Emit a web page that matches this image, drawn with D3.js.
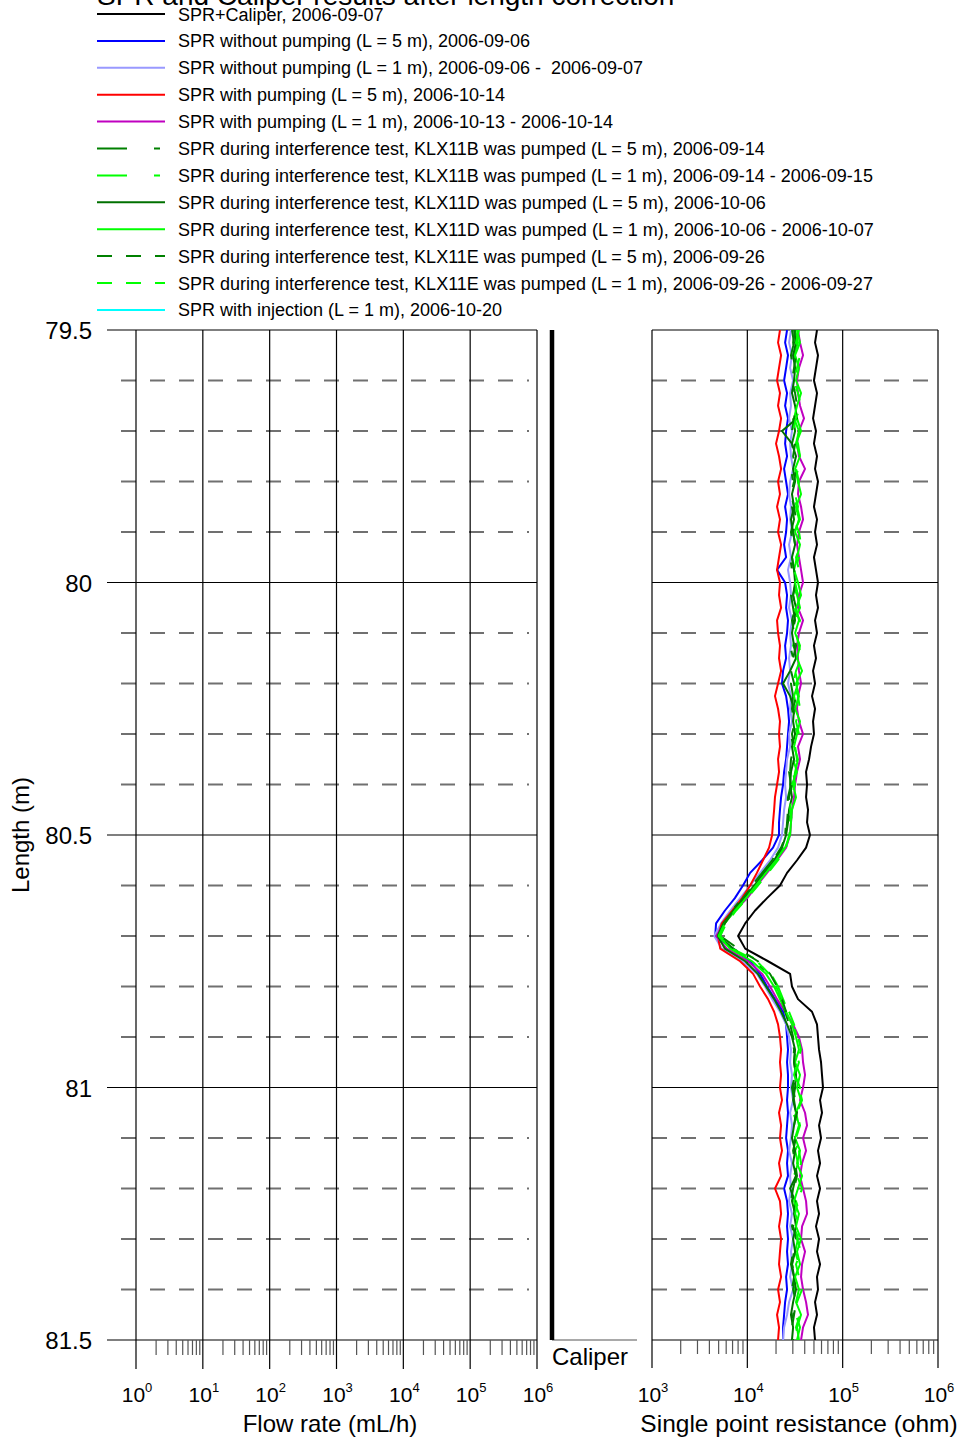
<!DOCTYPE html>
<html>
<head>
<meta charset="utf-8">
<script src="https://cdn.jsdelivr.net/npm/d3@7"></script>
<style>
  html, body { margin: 0; padding: 0; background: #fff; }
  svg { display: block; font-family: Arial, "Liberation Sans", Helvetica, sans-serif; }
  text { white-space: pre; }
</style>
</head>
<body>
<svg id="chart" width="965" height="1439"></svg>
<script>
// Borehole length (m) of each logged sample
const depth = [
  79.500,79.525,79.550,79.575,79.600,79.625,79.650,79.675,79.700,79.725,
  79.750,79.775,79.800,79.825,79.850,79.875,79.900,79.925,79.950,79.975,
  80.000,80.025,80.050,80.075,80.100,80.125,80.150,80.175,80.200,80.225,
  80.250,80.275,80.300,80.325,80.350,80.375,80.400,80.425,80.450,80.475,
  80.500,80.525,80.550,80.575,80.600,80.625,80.650,80.675,80.700,80.725,
  80.750,80.775,80.800,80.825,80.850,80.875,80.900,80.925,80.950,80.975,
  81.000,81.025,81.050,81.075,81.100,81.125,81.150,81.175,81.200,81.225,
  81.250,81.275,81.300,81.325,81.350,81.375,81.400,81.425,81.450,81.475,
  81.500
];

// Single point resistance, kilo-ohm, one value per depth
const sprCaliper = [
  53.8,51.3,55.1,52.5,50.0,53.8,51.3,48.9,52.5,50.0,
  53.8,51.3,55.1,52.5,50.0,53.8,51.3,53.8,50.0,52.5,
  55.1,52.5,55.1,51.3,53.8,50.0,52.5,48.9,51.3,47.7,
  51.3,48.9,50.0,46.6,44.4,41.3,42.3,41.3,43.3,42.3,
  45.4,41.3,33.2,26.1,22.0,16.1,12.0,9.5,8.0,9.5,
  16.5,28.1,29.4,34.0,47.7,53.8,55.1,56.5,59.3,60.7,
  62.2,57.9,60.7,56.5,59.3,55.1,57.9,53.8,57.9,53.8,
  56.5,52.5,56.5,53.8,57.9,53.8,55.1,51.3,53.8,50.0,
  51.3
];
const sprNoPump5 = [
  26.1,24.9,26.7,25.5,24.3,26.1,24.9,26.7,25.5,24.9,
  26.1,24.3,25.5,26.7,24.9,26.1,25.5,24.3,25.5,20.5,
  24.9,26.1,25.5,26.7,26.1,24.9,25.5,23.7,23.1,25.5,
  26.7,27.4,26.7,26.1,25.5,24.3,23.7,22.6,22.0,21.5,
  21.5,18.6,14.3,10.7,9.0,7.4,5.8,4.7,4.6,7.1,
  10.7,13.6,16.1,19.5,23.7,25.5,26.1,26.7,26.1,26.7,
  26.7,26.1,26.7,26.1,25.5,26.7,26.1,26.7,24.3,26.1,
  26.7,26.1,26.7,26.1,26.7,25.5,26.1,24.9,24.3,23.7,
  23.7
];
const sprNoPump1 = [
  28.7,27.4,29.4,28.1,30.2,28.1,28.7,27.4,29.4,28.1,
  28.7,30.2,28.1,27.4,28.7,28.1,29.4,27.4,28.7,26.7,
  28.1,28.7,27.4,29.4,28.1,28.7,27.4,28.1,26.7,28.7,
  28.1,29.4,27.4,28.1,26.1,25.5,24.9,25.5,24.3,23.7,
  23.1,21.0,17.3,13.6,10.7,8.4,6.6,5.3,4.5,5.4,
  8.8,12.6,15.3,18.2,22.0,25.5,27.4,28.7,28.1,29.4,
  28.7,30.2,28.1,29.4,28.7,27.4,29.4,28.1,28.7,27.4,
  29.4,28.1,30.2,28.7,29.4,28.1,30.2,27.4,26.1,24.3,
  23.7
];
const sprPump5 = [
  22.0,21.0,22.6,21.5,20.5,22.0,21.0,22.6,21.5,20.0,
  21.5,22.6,21.0,22.0,20.5,22.0,21.0,22.6,21.5,20.5,
  22.0,21.5,22.6,20.5,21.0,22.0,21.5,22.6,21.0,19.5,
  21.0,22.0,21.5,22.0,21.0,21.5,20.5,19.5,19.1,18.6,
  18.2,16.9,14.6,12.6,10.7,8.8,6.9,5.4,4.9,5.2,
  8.4,11.5,13.6,16.5,19.1,21.0,22.0,22.6,22.0,22.6,
  22.0,23.1,21.5,22.6,22.0,23.1,21.5,22.6,19.5,22.0,
  22.6,21.5,22.6,22.0,21.5,22.6,21.0,22.0,20.5,21.5,
  21.0
];
const sprPump1 = [
  34.0,35.7,38.4,34.8,33.2,34.0,35.7,39.3,34.8,33.2,
  34.8,40.3,34.8,34.0,36.6,38.4,34.8,33.2,34.8,36.6,
  38.4,34.8,34.0,38.4,34.8,33.2,34.0,34.8,36.6,34.0,
  33.2,34.8,38.4,34.0,35.7,33.2,31.7,30.9,29.4,28.7,
  28.1,25.5,20.5,16.1,12.6,10.0,7.4,5.7,4.7,6.1,
  10.2,14.3,17.3,20.5,24.9,30.2,34.8,37.5,38.4,40.3,
  38.4,35.7,40.3,42.3,38.4,41.3,37.5,35.7,38.4,41.3,
  42.3,37.5,36.6,40.3,37.5,36.6,38.4,41.3,43.3,38.4,
  36.6
];
const sprKLX11B5 = [
  29.4,30.9,28.7,30.2,31.7,29.4,28.1,30.2,31.7,29.4,
  30.9,28.7,30.2,31.7,29.4,30.9,28.7,30.2,28.1,29.4,
  30.9,28.7,30.2,31.7,29.4,28.1,30.2,31.7,28.7,30.2,
  29.4,30.9,28.7,30.2,28.1,27.4,28.7,26.7,26.1,25.5,
  24.9,22.0,18.2,14.3,11.2,8.8,6.9,5.7,5.0,7.1,
  12.0,16.5,20.0,22.6,24.9,27.4,29.4,30.9,30.2,31.7,
  29.4,30.9,32.4,30.2,31.7,29.4,30.9,32.4,30.2,28.7,
  30.9,29.4,31.7,30.2,28.7,30.9,29.4,31.7,30.2,28.7,
  29.4
];
const sprKLX11B1 = [
  31.7,34.0,30.9,33.2,35.7,31.7,30.2,33.2,36.6,32.4,
  30.2,34.0,31.7,29.4,33.2,35.7,30.9,33.2,34.8,31.7,
  29.4,33.2,35.7,30.9,33.2,30.2,34.8,31.7,34.0,30.9,
  33.2,30.2,34.0,32.4,30.2,33.2,29.4,28.1,28.7,27.4,
  26.7,24.3,19.5,15.3,12.0,9.5,7.3,5.7,4.9,7.4,
  13.6,17.7,21.0,23.7,26.7,30.2,33.2,30.9,34.8,31.7,
  35.7,32.4,30.2,34.0,36.6,31.7,34.0,30.9,34.8,32.4,
  35.7,30.9,34.0,31.7,34.8,33.2,30.9,34.8,32.4,35.7,
  33.2
];
const sprKLX11D5 = [
  30.9,32.4,30.2,31.7,30.9,29.4,31.7,33.2,23.1,29.4,
  32.4,30.2,31.7,29.4,30.9,28.7,30.2,31.7,29.4,30.9,
  31.7,30.2,32.4,30.9,29.4,30.9,32.4,28.1,23.7,28.1,
  30.9,30.2,31.7,29.4,30.9,28.7,28.1,29.4,27.4,26.7,
  25.5,23.1,19.1,15.0,11.8,9.2,7.1,5.6,4.9,5.8,
  9.5,12.9,15.7,19.1,22.6,26.1,29.4,31.7,30.9,32.4,
  31.7,30.2,32.4,30.9,29.4,31.7,30.2,32.4,28.1,31.7,
  30.9,32.4,30.2,31.7,29.4,30.9,32.4,30.2,28.7,30.2,
  29.4
];
const sprKLX11D1 = [
  33.2,35.7,31.7,34.8,32.4,36.6,33.2,30.9,34.8,32.4,
  35.7,31.7,34.0,36.6,32.4,34.8,31.7,35.7,33.2,30.9,
  34.0,36.6,32.4,34.8,31.7,35.7,33.2,37.5,32.4,34.8,
  31.7,35.7,33.2,30.9,34.0,31.7,30.2,32.4,29.4,28.7,
  28.1,24.9,20.0,15.7,12.3,9.7,7.4,5.8,5.0,6.6,
  11.2,15.7,19.1,22.0,25.5,29.4,32.4,34.8,31.7,35.7,
  33.2,36.6,32.4,34.8,31.7,35.7,33.2,37.5,34.0,30.9,
  34.8,32.4,36.6,33.2,35.7,31.7,34.8,32.4,36.6,33.2,
  34.8
];
const sprKLX11E5 = [
  31.7,30.2,32.4,30.9,29.4,31.7,33.2,30.9,29.4,31.7,
  30.2,32.4,30.9,28.7,30.9,32.4,30.2,31.7,29.4,30.9,
  32.4,30.2,31.7,29.4,30.9,32.4,30.2,28.7,30.9,32.4,
  30.2,31.7,29.4,30.9,28.7,28.1,29.4,27.4,26.7,26.1,
  25.5,22.6,18.6,14.6,11.5,9.0,7.1,5.8,5.2,8.0,
  12.9,17.3,20.5,23.1,25.5,28.1,30.2,31.7,30.9,32.4,
  30.2,31.7,33.2,30.9,32.4,30.2,31.7,33.2,30.9,29.4,
  31.7,30.2,32.4,30.9,29.4,31.7,30.2,32.4,30.9,29.4,
  30.2
];
const sprKLX11E1 = [
  34.8,32.4,35.7,33.2,30.9,34.0,36.6,32.4,30.2,34.0,
  35.7,32.4,34.8,31.7,34.0,30.9,34.8,36.6,32.4,34.8,
  31.7,34.0,30.9,35.7,32.4,34.8,36.6,32.4,30.2,34.0,
  35.7,32.4,34.8,31.7,33.2,30.2,31.7,28.7,28.1,29.4,
  27.4,25.5,21.0,16.5,12.9,10.0,7.6,6.0,5.2,6.9,
  12.6,16.9,20.0,23.1,27.4,30.9,34.0,36.6,33.2,30.9,
  34.8,37.5,33.2,35.7,32.4,34.8,36.6,33.2,37.5,34.0,
  31.7,35.7,33.2,36.6,32.4,34.8,37.5,33.2,35.7,32.4,
  34.8
];
// The injection run has no samples in this length interval
const sprInjection1 = [];

// Caliper trace (normalised reading) at both ends of the interval
const caliperDepth = [79.5, 81.5];
const caliperReading = [0, 0];

const legendLabels = [
  "SPR+Caliper, 2006-09-07",
  "SPR without pumping (L = 5 m), 2006-09-06",
  "SPR without pumping (L = 1 m), 2006-09-06 -  2006-09-07",
  "SPR with pumping (L = 5 m), 2006-10-14",
  "SPR with pumping (L = 1 m), 2006-10-13 - 2006-10-14",
  "SPR during interference test, KLX11B was pumped (L = 5 m), 2006-09-14",
  "SPR during interference test, KLX11B was pumped (L = 1 m), 2006-09-14 - 2006-09-15",
  "SPR during interference test, KLX11D was pumped (L = 5 m), 2006-10-06",
  "SPR during interference test, KLX11D was pumped (L = 1 m), 2006-10-06 - 2006-10-07",
  "SPR during interference test, KLX11E was pumped (L = 5 m), 2006-09-26",
  "SPR during interference test, KLX11E was pumped (L = 1 m), 2006-09-26 - 2006-09-27",
  "SPR with injection (L = 1 m), 2006-10-20"
];

const flowTicks = [1, 10, 100, 1e3, 1e4, 1e5, 1e6];
const flowTickExp = ["0", "1", "2", "3", "4", "5", "6"];
const resTicks = [1e3, 1e4, 1e5, 1e6];
const resTickExp = ["3", "4", "5", "6"];
const depthTicks = [79.5, 80, 80.5, 81, 81.5];
const depthTickLabels = ["79.5", "80", "80.5", "81", "81.5"];

const titleText = "SPR and Caliper results after length correction";
const flowTitle = "Flow rate (mL/h)";
const resTitle = "Single point resistance (ohm)";
const depthTitle = "Length (m)";
const caliperTitle = "Caliper";

// ---------- styling for each SPR run ----------
const DARK = "#008000", LIME = "#00ff00";
const dashLongShort = "30,27,6,27";
const dashPlain = "15,14";
const runs = [
  { values: sprCaliper,    color: "#000000", dash: null },
  { values: sprNoPump5,    color: "#0000ff", dash: null },
  { values: sprNoPump1,    color: "#9999ff", dash: null },
  { values: sprPump5,      color: "#ff0000", dash: null },
  { values: sprPump1,      color: "#c000c0", dash: null },
  { values: sprKLX11B5,    color: DARK,      dash: dashLongShort },
  { values: sprKLX11B1,    color: LIME,      dash: dashLongShort },
  { values: sprKLX11D5,    color: "#007000", dash: null },
  { values: sprKLX11D1,    color: LIME,      dash: null },
  { values: sprKLX11E5,    color: DARK,      dash: dashPlain },
  { values: sprKLX11E1,    color: LIME,      dash: dashPlain },
  { values: sprInjection1, color: "#00ffff", dash: null }
].map((r, i) => Object.assign(r, { label: legendLabels[i] }));

// ---------- scales ----------
const y = d3.scaleLinear().domain([79.5, 81.5]).range([330, 1340]);
const xFlow = d3.scaleLog().domain([1, 1e6]).range([136, 537]);
const xRes = d3.scaleLog().domain([1e3, 1e6]).range([652, 938]);
const xCal = d3.scaleLinear().domain([0, 1]).range([552, 637]);

const svg = d3.select("#chart");
const FONT = 'Arial, "Liberation Sans", Helvetica, sans-serif';
const gridColor = "#000";
const dashColor = "#707070";
const tickBottom = 1369;

// minor depth gridlines every 0.1 m
const minorDepths = y.ticks(20).filter(d => !depthTicks.some(t => Math.abs(t - d) < 1e-6));

// ---------- flow rate panel ----------
const gFlow = svg.append("g");
gFlow.selectAll("line.minorH").data(minorDepths).join("line")
  .attr("x1", 121).attr("x2", 529)
  .attr("y1", d => y(d)).attr("y2", d => y(d))
  .attr("stroke", dashColor).attr("stroke-width", 2).attr("stroke-dasharray", "15,14");
gFlow.selectAll("line.majorH").data(depthTicks).join("line")
  .attr("x1", 107).attr("x2", xFlow(1e6))
  .attr("y1", d => y(d)).attr("y2", d => y(d))
  .attr("stroke", gridColor).attr("stroke-width", 1.2);
gFlow.selectAll("line.decade").data(flowTicks).join("line")
  .attr("x1", d => xFlow(d)).attr("x2", d => xFlow(d))
  .attr("y1", y(79.5)).attr("y2", tickBottom)
  .attr("stroke", gridColor).attr("stroke-width", 1.2);
gFlow.selectAll("line.minorTick")
  .data(xFlow.ticks().filter(v => Math.abs(Math.log10(v) - Math.round(Math.log10(v))) > 1e-9))
  .join("line")
  .attr("x1", d => xFlow(d)).attr("x2", d => xFlow(d))
  .attr("y1", y(81.5)).attr("y2", y(81.5) + 15)
  .attr("stroke", "#555").attr("stroke-width", 1.2);

// ---------- caliper panel ----------
svg.append("line")
  .attr("x1", xCal(0)).attr("x2", xCal(1))
  .attr("y1", y(81.5)).attr("y2", y(81.5))
  .attr("stroke", "#555").attr("stroke-width", 1.2);
svg.append("path")
  .datum(caliperDepth.map((d, i) => [caliperReading[i], d]))
  .attr("d", d3.line().x(p => xCal(p[0])).y(p => y(p[1])))
  .attr("fill", "none").attr("stroke", "#000").attr("stroke-width", 4.5)
  .attr("stroke-linecap", "butt");

// ---------- resistance panel ----------
const gRes = svg.append("g");
gRes.selectAll("line.minorH").data(minorDepths).join("line")
  .attr("x1", 652).attr("x2", 930)
  .attr("y1", d => y(d)).attr("y2", d => y(d))
  .attr("stroke", dashColor).attr("stroke-width", 2).attr("stroke-dasharray", "15,14");
gRes.selectAll("line.majorH").data(depthTicks).join("line")
  .attr("x1", xRes(1e3)).attr("x2", xRes(1e6))
  .attr("y1", d => y(d)).attr("y2", d => y(d))
  .attr("stroke", gridColor).attr("stroke-width", 1.2);
gRes.selectAll("line.decade").data(resTicks).join("line")
  .attr("x1", d => xRes(d)).attr("x2", d => xRes(d))
  .attr("y1", y(79.5)).attr("y2", tickBottom - 1)
  .attr("stroke", gridColor).attr("stroke-width", 1.2);
gRes.selectAll("line.minorTick")
  .data(xRes.ticks().filter(v => Math.abs(Math.log10(v) - Math.round(Math.log10(v))) > 1e-9))
  .join("line")
  .attr("x1", d => xRes(d)).attr("x2", d => xRes(d))
  .attr("y1", y(81.5)).attr("y2", y(81.5) + 14)
  .attr("stroke", "#555").attr("stroke-width", 1.2);

// SPR curves, values in kOhm converted to ohm
svg.append("defs").append("clipPath").attr("id", "resClip")
  .append("rect").attr("x", xRes(1e3)).attr("y", y(79.5))
  .attr("width", xRes(1e6) - xRes(1e3)).attr("height", y(81.5) - y(79.5));
const sprLine = d3.line()
  .x(p => xRes(p[0] * 1000))
  .y(p => y(p[1]));
const gCurves = svg.append("g").attr("clip-path", "url(#resClip)");
runs.forEach(r => {
  if (!r.values.length) return;
  gCurves.append("path")
    .datum(r.values.map((v, i) => [v, depth[i]]))
    .attr("d", sprLine)
    .attr("fill", "none")
    .attr("stroke", r.color)
    .attr("stroke-width", 2)
    .attr("stroke-linejoin", "round")
    .attr("stroke-dasharray", r.dash);
});

// ---------- tick labels ----------
function powerLabels(scale, ticks, exps) {
  const t = svg.append("g").selectAll("text").data(ticks).join("text")
    .attr("x", d => scale(d) + 1).attr("y", 1402)
    .attr("text-anchor", "middle")
    .attr("font-family", FONT).attr("font-size", 21).attr("fill", "#000");
  t.append("tspan").text("10");
  t.append("tspan").attr("dy", -10).attr("font-size", 13).text((d, i) => exps[i]);
}
powerLabels(xFlow, flowTicks, flowTickExp);
powerLabels(xRes, resTicks, resTickExp);

svg.append("g").selectAll("text").data(depthTicks).join("text")
  .attr("x", 92).attr("y", d => y(d) + 9)
  .attr("text-anchor", "end")
  .attr("font-family", FONT).attr("font-size", 24)
  .text((d, i) => depthTickLabels[i]);

// ---------- axis titles ----------
svg.append("text").attr("x", 330).attr("y", 1432).attr("text-anchor", "middle")
  .attr("font-family", FONT).attr("font-size", 24).text(flowTitle);
svg.append("text").attr("x", 799).attr("y", 1432).attr("text-anchor", "middle")
  .attr("font-family", FONT).attr("font-size", 24.5).text(resTitle);
svg.append("text").attr("x", 552).attr("y", 1365).attr("text-anchor", "start")
  .attr("font-family", FONT).attr("font-size", 24).text(caliperTitle);
svg.append("text").attr("transform", "translate(29,835) rotate(-90)")
  .attr("text-anchor", "middle")
  .attr("font-family", FONT).attr("font-size", 24).text(depthTitle);

// ---------- title and legend ----------
svg.append("text").attr("x", 97).attr("y", 5)
  .attr("font-family", FONT).attr("font-size", 28).text(titleText);

const legend = svg.append("g").selectAll("g").data(runs).join("g")
  .attr("transform", (d, i) => `translate(0,${14 + i * 26.9})`);
legend.append("line")
  .attr("x1", 97).attr("x2", 165).attr("y1", 0).attr("y2", 0)
  .attr("stroke", d => d.color).attr("stroke-width", 2)
  .attr("stroke-dasharray", d => d.dash);
legend.append("text")
  .attr("x", 178).attr("y", 6.5)
  .attr("font-family", FONT).attr("font-size", 18)
  .text(d => d.label);
</script>
</body>
</html>
